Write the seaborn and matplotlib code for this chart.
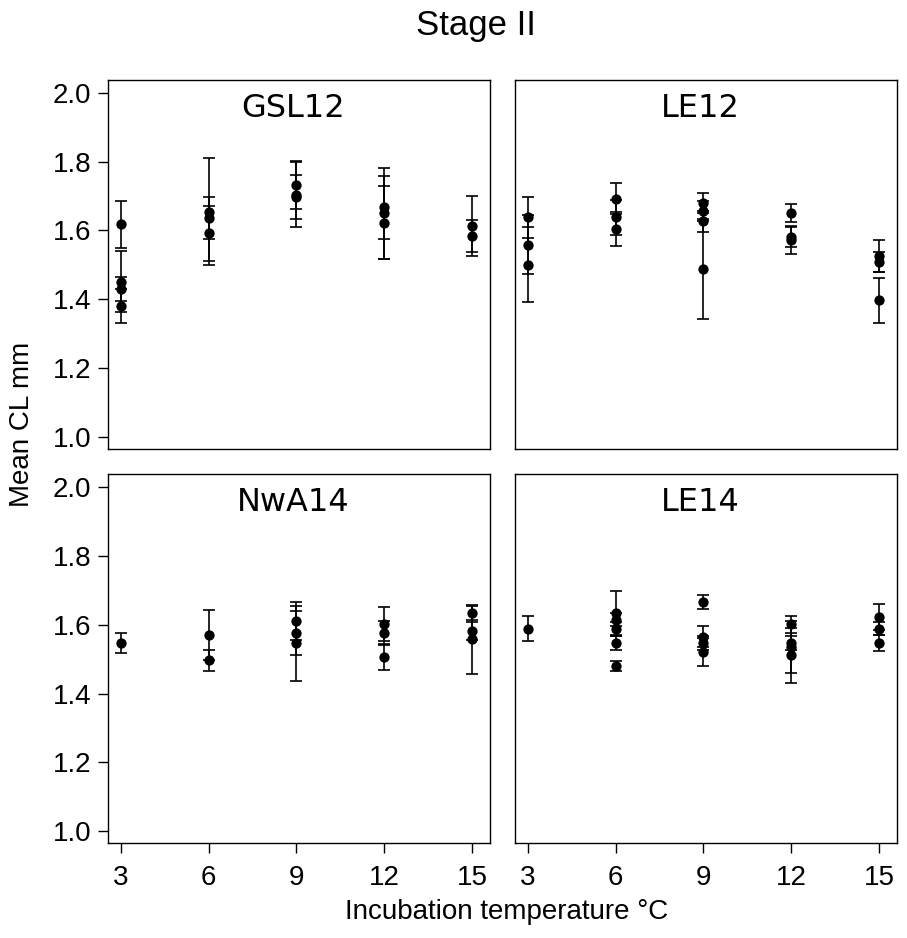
import pandas as pd
import matplotlib.pyplot as plt
import seaborn as sns

# Panels and temperatures
panels = ["GSL12", "LE12", "NwA14", "LE14"]

# Mean CL (mm) and error half-widths, per panel
gsl12_temp = [3, 3, 3, 3, 6, 6, 6, 9, 9, 9, 12, 12, 12, 15, 15]
gsl12_mean = [1.618, 1.451, 1.431, 1.380, 1.655, 1.636, 1.592, 1.733, 1.704, 1.698, 1.650, 1.667, 1.623, 1.612, 1.584]
gsl12_err = [0.068, 0.089, 0.035, 0.050, 0.155, 0.060, 0.080, 0.070, 0.095, 0.064, 0.132, 0.092, 0.105, 0.087, 0.047]

le12_temp = [3, 3, 3, 6, 6, 6, 9, 9, 9, 9, 12, 12, 12, 15, 15, 15]
le12_mean = [1.638, 1.559, 1.501, 1.692, 1.638, 1.605, 1.680, 1.657, 1.626, 1.489, 1.650, 1.582, 1.571, 1.526, 1.508, 1.397]
le12_err = [0.060, 0.087, 0.108, 0.045, 0.050, 0.050, 0.030, 0.030, 0.030, 0.145, 0.026, 0.030, 0.040, 0.046, 0.030, 0.065]

nwa14_temp = [3, 6, 6, 9, 9, 9, 12, 12, 12, 15, 15, 15]
nwa14_mean = [1.546, 1.570, 1.497, 1.610, 1.576, 1.546, 1.603, 1.576, 1.507, 1.635, 1.582, 1.558]
nwa14_err = [0.029, 0.072, 0.030, 0.055, 0.065, 0.108, 0.050, 0.035, 0.038, 0.020, 0.025, 0.100]

le14_temp = [3, 6, 6, 6, 6, 6, 9, 9, 9, 9, 12, 12, 12, 12, 15, 15, 15]
le14_mean = [1.589, 1.633, 1.615, 1.589, 1.547, 1.481, 1.667, 1.565, 1.547, 1.521, 1.601, 1.547, 1.536, 1.512, 1.622, 1.589, 1.547]
le14_err = [0.037, 0.065, 0.020, 0.020, 0.020, 0.015, 0.020, 0.030, 0.020, 0.040, 0.025, 0.020, 0.075, 0.080, 0.038, 0.020, 0.022]

x_ticks = [3, 6, 9, 12, 15]
y_ticks = [1.0, 1.2, 1.4, 1.6, 1.8, 2.0]

frames = []
for name, t, m, e in [("GSL12", gsl12_temp, gsl12_mean, gsl12_err),
                      ("LE12", le12_temp, le12_mean, le12_err),
                      ("NwA14", nwa14_temp, nwa14_mean, nwa14_err),
                      ("LE14", le14_temp, le14_mean, le14_err)]:
    frames.append(pd.DataFrame({"panel": name, "temp": t, "mean": m, "err": e}))
df = pd.concat(frames, ignore_index=True)

sns.set_style("ticks", {"axes.edgecolor": "black", "text.color": "black",
                        "xtick.color": "black", "ytick.color": "black"})
plt.rcParams["font.family"] = ["Liberation Sans", "DejaVu Sans"]

fig, axes = plt.subplots(2, 2, figsize=(9.07, 9.38), dpi=100, sharex=True, sharey=True)
fig.subplots_adjust(left=0.119, right=0.989, top=0.915, bottom=0.101, wspace=0.065, hspace=0.068)

for ax, name in zip(axes.flat, panels):
    sub = df[df["panel"] == name]
    ax.errorbar(sub["temp"], sub["mean"], yerr=sub["err"], fmt="none",
                ecolor="black", elinewidth=1.2, capsize=4, capthick=1.2)
    sns.scatterplot(data=sub, x="temp", y="mean", ax=ax, color="black",
                    s=55, edgecolor="black", linewidth=0, zorder=3)
    ax.set_xlim(2.556, 15.62)
    ax.set_ylim(0.965, 2.038)
    ax.set_xticks(x_ticks)
    ax.set_yticks(y_ticks)
    ax.set_xlabel("")
    ax.set_ylabel("")
    for sp in ax.spines.values():
        sp.set_visible(True)
        sp.set_linewidth(1.0)
        sp.set_color("black")
    ax.text(0.485, 0.965, name, transform=ax.transAxes, ha="center", va="top",
            fontsize=23, family="DejaVu Sans", color="black")
    ax.tick_params(axis="both", direction="out", length=7, width=1,
                   labelsize=20, pad=5, colors="black")
    ax.tick_params(axis="x", pad=9)

for ax in axes[0, :]:
    ax.tick_params(axis="x", bottom=False, labelbottom=False)
for ax in axes[:, 1]:
    ax.tick_params(axis="y", left=False, labelleft=False)
for ax in axes[:, 0]:
    ax.yaxis.set_major_formatter(plt.FormatStrFormatter("%.1f"))

fig.suptitle("Stage II", fontsize=25, x=0.525, y=0.99, color="black")
fig.supxlabel("Incubation temperature °C", fontsize=20, x=0.559, y=0.014, color="black")
fig.supylabel("Mean CL mm", fontsize=20, x=0.01, y=0.548, color="black")

plt.savefig("out.png", dpi=100)
plt.close()
